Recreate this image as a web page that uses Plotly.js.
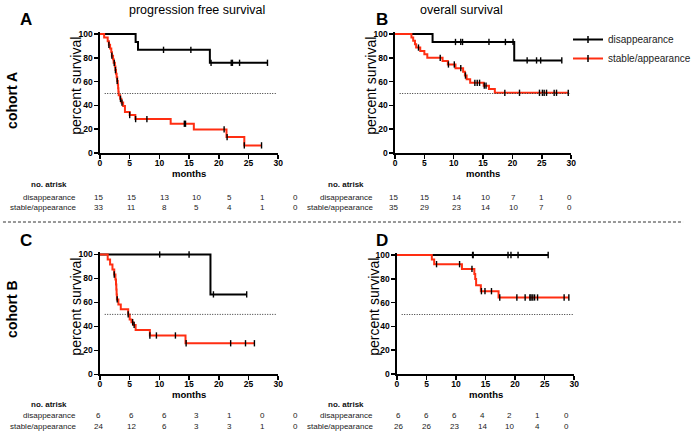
<!DOCTYPE html>
<html><head><meta charset="utf-8">
<script src="https://cdn.plot.ly/plotly-3.0.1.min.js"></script>
<style>html,body{margin:0;padding:0;background:#fff;}#chart{width:696px;height:432px;}</style>
</head><body><div id="chart"></div>
<script>
// ---------- DATA ----------
const seriesNames = ["disappearance", "stable/appearance"];
const panelTitles = ["progression free survival", "overall survival"];
const cohortLabels = ["cohort A", "cohort B"];
const panelLetters = ["A", "B", "C", "D"];
const xTicks = [0, 5, 10, 15, 20, 25, 30];
const yTicks = [0, 20, 40, 60, 80, 100];

// Panel A: PFS, cohort A
const A_dis_t = [0, 6.0, 6.4, 18.5, 28.2];
const A_dis_s = [100, 93.3, 86.7, 75.8, 75.8];
const A_dis_c = [10.7, 15.3, 18.7, 22.1, 22.3, 23.5, 28.2];
const A_sta_t = [0, 0.7, 1.3, 1.5, 1.7, 1.9, 2.0, 2.2, 2.3, 2.5, 2.6, 2.7, 2.8, 2.9, 3.0, 3.05, 3.1, 3.15, 3.4, 3.6, 3.9, 4.2, 5.0, 5.95, 11.9, 15.8, 21.3, 24.3, 27.2];
const A_sta_s = [100, 97.0, 93.9, 90.9, 87.9, 84.8, 81.8, 78.8, 75.8, 72.7, 69.7, 66.7, 63.6, 60.6, 57.6, 54.5, 51.5, 48.5, 45.5, 42.4, 39.4, 34.4, 31.9, 28.5, 24.6, 19.8, 13.4, 6.4, 6.4];
const A_sta_c = [1.5, 2.0, 2.4, 2.6, 2.9, 3.45, 3.7, 5.0, 6.0, 7.9, 14.2, 14.4, 20.9, 21.4, 24.3, 27.2];

// Panel B: OS, cohort A
const B_dis_t = [0, 6.4, 20.3, 28.4];
const B_dis_s = [100, 93.3, 77.8, 77.8];
const B_dis_c = [10.3, 11.2, 11.5, 16.0, 18.8, 20.1, 22.5, 24.1, 24.8, 28.4];
const B_sta_t = [0, 2.8, 3.1, 3.4, 3.6, 4.3, 5.0, 5.5, 8.1, 9.0, 10.3, 11.6, 11.9, 12.2, 12.8, 15.1, 16.0, 17.0, 29.5];
const B_sta_s = [100, 97.1, 94.3, 91.4, 88.6, 85.7, 82.9, 80.0, 77.4, 74.4, 71.3, 68.2, 65.1, 62.0, 59.0, 56.6, 53.8, 50.6, 50.6];
const B_sta_c = [4.0, 7.7, 9.1, 10.1, 11.2, 12.0, 13.6, 14.0, 14.4, 15.2, 15.5, 18.7, 21.2, 24.6, 25.1, 25.4, 25.8, 27.1, 27.5, 29.5];

// Panel C: PFS, cohort B
const C_dis_t = [0, 18.6, 24.7];
const C_dis_s = [100, 66.7, 66.7];
const C_dis_c = [10.05, 15.0, 19.1, 24.7];
const C_sta_t = [0, 1.3, 1.7, 2.1, 2.4, 2.6, 2.7, 2.75, 2.8, 2.85, 3.1, 3.5, 4.75, 5.0, 5.3, 5.6, 6.0, 8.4, 14.4, 26.0];
const C_sta_s = [100, 95.8, 91.7, 87.5, 83.3, 79.2, 75.0, 70.8, 66.7, 62.5, 58.3, 54.2, 50.0, 45.8, 43.5, 41.2, 37.0, 32.4, 25.9, 25.9];
const C_sta_c = [2.4, 2.9, 4.75, 5.5, 5.75, 8.4, 9.5, 12.7, 14.5, 22.0, 24.5, 26.0];

// Panel D: OS, cohort B
const D_dis_t = [0, 25.6];
const D_dis_s = [100, 100];
const D_dis_c = [12.8, 12.9, 18.8, 19.3, 20.5, 25.6];
const D_sta_t = [0, 5.9, 6.3, 11.0, 13.1, 13.25, 13.4, 14.2, 17.2, 29.1];
const D_sta_s = [100, 96.2, 92.3, 88.3, 84.1, 79.9, 74.6, 69.6, 64.3, 64.3];
const D_sta_c = [6.7, 10.6, 12.7, 14.3, 14.9, 16.0, 17.4, 20.3, 21.7, 22.5, 22.7, 23.0, 23.3, 23.8, 28.3, 29.1];

// Number at risk
const riskHeader = "no. atrisk";
const A_risk_dis = [15, 15, 13, 10, 5, 1, 0];
const A_risk_sta = [33, 11, 8, 5, 4, 1, 0];
const B_risk_dis = [15, 15, 14, 10, 7, 1, 0];
const B_risk_sta = [35, 29, 23, 14, 10, 7, 0];
const C_risk_dis = [6, 6, 6, 3, 1, 0, 0];
const C_risk_sta = [24, 12, 6, 3, 3, 1, 0];
const D_risk_dis = [6, 6, 6, 4, 2, 1, 0];
const D_risk_sta = [26, 26, 23, 14, 10, 4, 0];

// ---------- LAYOUT HELPERS ----------
const W = 696, H = 432;
const FONT = "Liberation Sans, Arial, Helvetica, sans-serif";
const RED = "#ff2e12";
const px = p => p / W;
const py = p => 1 - p / H;

const panels = [
  {id: "", L: 101, R: 281, T: 34, B: 153, dis: [A_dis_t, A_dis_s, A_dis_c], sta: [A_sta_t, A_sta_s, A_sta_c], risk: [A_risk_dis, A_risk_sta],
   cols: [100, 133, 166, 199, 232, 265, 298], rows: [185, 197, 208], lab: 79, months: 173},
  {id: "2", L: 399, R: 577, T: 34, B: 153, dis: [B_dis_t, B_dis_s, B_dis_c], sta: [B_sta_t, B_sta_s, B_sta_c], risk: [B_risk_dis, B_risk_sta],
   cols: [398, 429, 461, 490, 519, 547, 575], rows: [185, 197, 208], lab: 379, months: 173},
  {id: "3", L: 101, R: 281, T: 254.5, B: 374.3, dis: [C_dis_t, C_dis_s, C_dis_c], sta: [C_sta_t, C_sta_s, C_sta_c], risk: [C_risk_dis, C_risk_sta],
   cols: [100, 133, 166, 199, 232, 265, 298], rows: [404, 415, 426], lab: 79, months: 394},
  {id: "4", L: 401, R: 580, T: 255, B: 374, dis: [D_dis_t, D_dis_s, D_dis_c], sta: [D_sta_t, D_sta_s, D_sta_c], risk: [D_risk_dis, D_risk_sta],
   cols: [403, 431, 459, 487, 515, 543, 572], rows: [404, 415, 426], lab: 379, months: 394}
];

function stepAt(t, T, S) {
  let v = S[0];
  for (let i = 0; i < T.length; i++) { if (T[i] <= t) v = S[i]; }
  return v;
}

const traces = [];
const layout = {
  width: W, height: H,
  margin: {l: 0, r: 0, t: 0, b: 0},
  paper_bgcolor: "#fff", plot_bgcolor: "rgba(0,0,0,0)",
  font: {family: FONT, color: "#000"},
  showlegend: true,
  legend: {x: px(574), y: py(25), xanchor: "left", yanchor: "top", font: {size: 10, family: FONT, color: "#222"},
           bgcolor: "rgba(0,0,0,0)", tracegroupgap: 0},
  annotations: [], shapes: []
};

const YMAX = 102;
panels.forEach((p, k) => {
  const xa = "xaxis" + p.id, ya = "yaxis" + p.id;
  const xr = "x" + p.id, yr = "y" + p.id;
  const pxPerUnit = (p.B - p.T) / 100;
  const topPx = p.B - YMAX * pxPerUnit;
  const axCommon = {showgrid: false, zeroline: false, showline: true, linecolor: "#000", linewidth: 1.6,
    ticks: "outside", ticklen: 4, tickwidth: 1.5, tickcolor: "#000", fixedrange: true,
    tickfont: {family: FONT, size: 8.5, color: "#000", weight: "bold"}};
  layout[xa] = Object.assign({}, axCommon, {domain: [px(p.L), px(p.R)], range: [0, 30], tickvals: xTicks, anchor: yr,
    ticklabelstandoff: -3});
  layout[ya] = Object.assign({}, axCommon, {domain: [py(p.B), py(topPx)], range: [0, YMAX], tickvals: yTicks, anchor: xr});

  // median reference line
  layout.shapes.push({type: "line", xref: xr, yref: yr, x0: 0.8, x1: 29.8, y0: 50, y1: 50,
    line: {color: "#333", width: 1, dash: "1px,1.5px"}});

  // curves
  [[p.dis, "#000"], [p.sta, RED]].forEach(([d, col]) => {
    traces.push({x: d[0], y: d[1], xaxis: xr, yaxis: yr, type: "scatter", mode: "lines",
      line: {shape: "hv", color: col, width: 2}, showlegend: false, hoverinfo: "skip"});
  });
  [p.dis, p.sta].forEach(d => {
    traces.push({x: d[2], y: d[2].map(t => stepAt(t, d[0], d[1])), xaxis: xr, yaxis: yr, type: "scatter", mode: "markers",
      marker: {symbol: "line-ns", size: 4.5, line: {width: 1.4, color: "#000"}, color: "#000"}, cliponaxis: false,
      showlegend: false, hoverinfo: "skip"});
  });

  // axis titles
  layout.annotations.push({text: "percent survival", xref: "paper", yref: "paper", x: px(p.L - 24), y: py((p.T + p.B) / 2 - 8),
    textangle: -90, showarrow: false, xanchor: "center", yanchor: "middle", font: {size: 14, family: FONT, color: "#000"}});
  layout.annotations.push({text: "<b>months</b>", xref: "paper", yref: "paper", x: px((p.L + p.R) / 2), y: py(p.months),
    showarrow: false, xanchor: "center", yanchor: "middle", font: {size: 9.5, family: FONT, color: "#000"}});

  // risk table
  layout.annotations.push({text: "<b>" + riskHeader + "</b>", xref: "paper", yref: "paper", x: px(p.lab - 9), y: py(p.rows[0]),
    showarrow: false, xanchor: "right", yanchor: "middle", font: {size: 8, family: FONT, color: "#111"}});
  seriesNames.forEach((nm, j) => {
    layout.annotations.push({text: nm, xref: "paper", yref: "paper", x: px(p.lab), y: py(p.rows[j + 1]),
      showarrow: false, xanchor: "right", yanchor: "middle", font: {size: 8, family: FONT, color: "#222"}});
    p.risk[j].forEach((v, c) => {
      layout.annotations.push({text: String(v), xref: "paper", yref: "paper", x: px(p.cols[c]), y: py(p.rows[j + 1]),
        showarrow: false, xanchor: "center", yanchor: "middle", font: {size: 8, family: FONT, color: "#222"}});
    });
  });

  // panel letter
  layout.annotations.push({text: "<b>" + panelLetters[k] + "</b>", xref: "paper", yref: "paper",
    x: px(k % 2 === 0 ? 26 : 386), y: py(k < 2 ? 19 : 240), showarrow: false, xanchor: "center", yanchor: "middle",
    font: {size: 17, family: FONT, color: "#000"}});
});

// column titles
layout.annotations.push({text: panelTitles[0], xref: "paper", yref: "paper", x: px(199), y: py(10), showarrow: false,
  xanchor: "center", yanchor: "middle", font: {size: 12.5, family: FONT, color: "#000"}});
layout.annotations.push({text: panelTitles[1], xref: "paper", yref: "paper", x: px(466), y: py(10), showarrow: false,
  xanchor: "center", yanchor: "middle", font: {size: 12.5, family: FONT, color: "#000"}});
// cohort labels
layout.annotations.push({text: "<b>" + cohortLabels[0] + "</b>", xref: "paper", yref: "paper", x: px(12), y: py(100),
  textangle: -90, showarrow: false, xanchor: "center", yanchor: "middle", font: {size: 14, family: FONT, color: "#000"}});
layout.annotations.push({text: "<b>" + cohortLabels[1] + "</b>", xref: "paper", yref: "paper", x: px(12), y: py(309),
  textangle: -90, showarrow: false, xanchor: "center", yanchor: "middle", font: {size: 14, family: FONT, color: "#000"}});
// separator
layout.shapes.push({type: "line", xref: "paper", yref: "paper", x0: px(3), x1: px(690), y0: py(222), y1: py(222),
  line: {color: "#333", width: 1, dash: "3px,2px"}});

// legend entries
[["#000", seriesNames[0]], [RED, seriesNames[1]]].forEach(([col, nm]) => {
  traces.push({x: [null], y: [null], type: "scatter", mode: "lines+markers", name: nm, xaxis: "x2", yaxis: "y2",
    line: {color: col, width: 2}, marker: {symbol: "line-ns", size: 5, line: {width: 1.5, color: "#000"}, color: "#000"},
    showlegend: true, hoverinfo: "skip"});
});

Plotly.newPlot("chart", traces, layout, {staticPlot: true, displayModeBar: false});
</script></body></html>
